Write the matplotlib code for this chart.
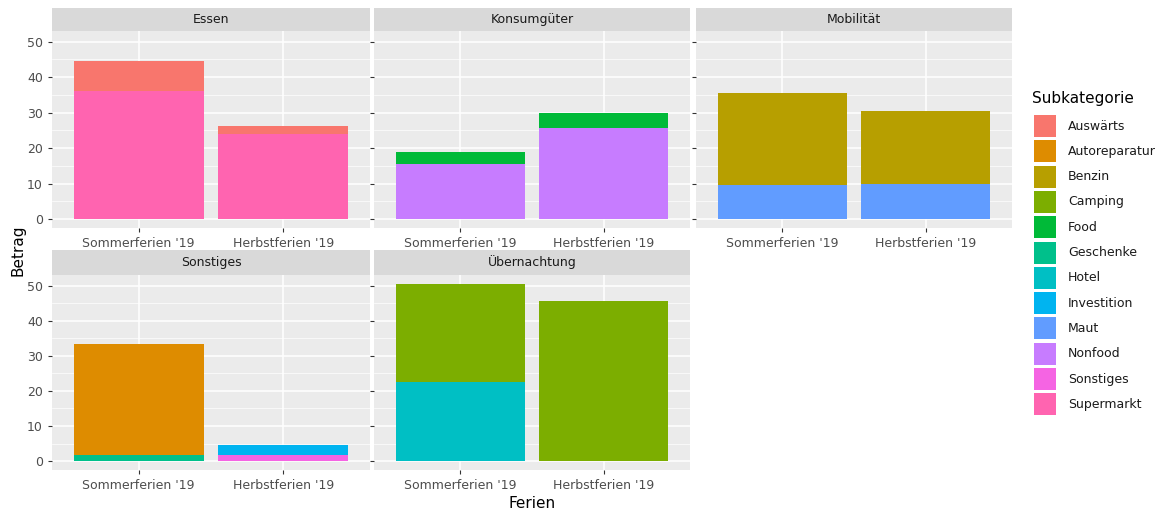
import matplotlib
matplotlib.use("Agg")
import matplotlib.pyplot as plt
from matplotlib.patches import Rectangle

ferien = ["Sommerferien '19", "Herbstferien '19"]
subkats = ["Auswärts","Autoreparatur","Benzin","Camping","Food","Geschenke","Hotel",
           "Investition","Maut","Nonfood","Sonstiges","Supermarkt"]
colors = ["#F8766D","#DE8C00","#B79F00","#7CAE00","#00BA38","#00C08B","#00BFC4",
          "#00B4F0","#619CFF","#C77CFF","#F564E3","#FF64B0"]
panels = ["Essen","Konsumgüter","Mobilität","Sonstiges","Übernachtung"]
# values per panel: {subkategorie: [sommer, herbst]}
essen = {"Auswärts":[8.5,2.2],"Supermarkt":[36,24]}
konsum = {"Food":[3.5,4.2],"Nonfood":[15.5,25.8]}
mobil = {"Benzin":[26,20.5],"Maut":[9.5,10]}
sonst = {"Autoreparatur":[31.7,0],"Geschenke":[1.8,0],"Investition":[0,2.7],"Sonstiges":[0,1.8]}
ueber = {"Camping":[28,45.5],"Hotel":[22.5,0]}
data = [essen, konsum, mobil, sonst, ueber]

W, H = 1163, 518
fig = plt.figure(figsize=(W/100, H/100), dpi=100)
cols = [(52,370),(374,690),(696,1012)]
rows = [(8,31,228),(250,275,470)]
for i,(name,d) in enumerate(zip(panels,data)):
    r, c = divmod(i,3)
    x0,x1 = cols[c]; st,y0,y1 = rows[r]
    ax = fig.add_axes([x0/W, 1-y1/H, (x1-x0)/W, (y1-y0)/H])
    ax.set_facecolor("#EBEBEB")
    ax.set_xlim(0.4,2.6); ax.set_ylim(-2.525,53.025)
    ax.set_yticks([0,10,20,30,40,50]); ax.set_yticks([5,15,25,35,45],minor=True)
    ax.set_xticks([1,2]); 
    ax.grid(True,which="major",color="white",lw=1.1)
    ax.grid(True,which="minor",axis="y",color="white",lw=0.5)
    ax.set_axisbelow(True)
    for s in ax.spines.values(): s.set_visible(False)
    ax.tick_params(which="both",length=3,color="#333333",labelsize=9,labelcolor="#4D4D4D")
    ax.tick_params(which="minor",length=0)
    ax.set_xticklabels(ferien)
    if c != 0: ax.set_yticklabels([])
    bottoms=[0,0]
    for sk in reversed(subkats):
        if sk in d:
            v=d[sk]
            ax.bar([1,2],v,bottom=bottoms,width=0.9,color=colors[subkats.index(sk)])
            bottoms=[bottoms[k]+v[k] for k in range(2)]
    sax = fig.add_axes([x0/W,1-y0/H,(x1-x0)/W,(y0-st)/H])
    sax.set_facecolor("#D9D9D9"); sax.set_xticks([]); sax.set_yticks([])
    for s in sax.spines.values(): s.set_visible(False)
    sax.text(0.5,0.5,name,ha="center",va="center",fontsize=9,color="#1A1A1A")

fig.text(532/W,1-503/H,"Ferien",ha="center",va="center",fontsize=11)
fig.text(18/W,1-250/H,"Betrag",ha="center",va="center",rotation=90,fontsize=11)
fig.text(1032/W,1-98/H,"Subkategorie",ha="left",va="center",fontsize=11)
for k,(sk,col) in enumerate(zip(subkats,colors)):
    yc = 126+k*25.3
    fig.patches.append(Rectangle((1034/W,1-(yc+11)/H),22/W,22/H,transform=fig.transFigure,
                                 facecolor=col,edgecolor="none"))
    fig.text(1068/W,1-yc/H,sk,ha="left",va="center",fontsize=9,color="#1A1A1A")
fig.savefig("out.png",dpi=100)
